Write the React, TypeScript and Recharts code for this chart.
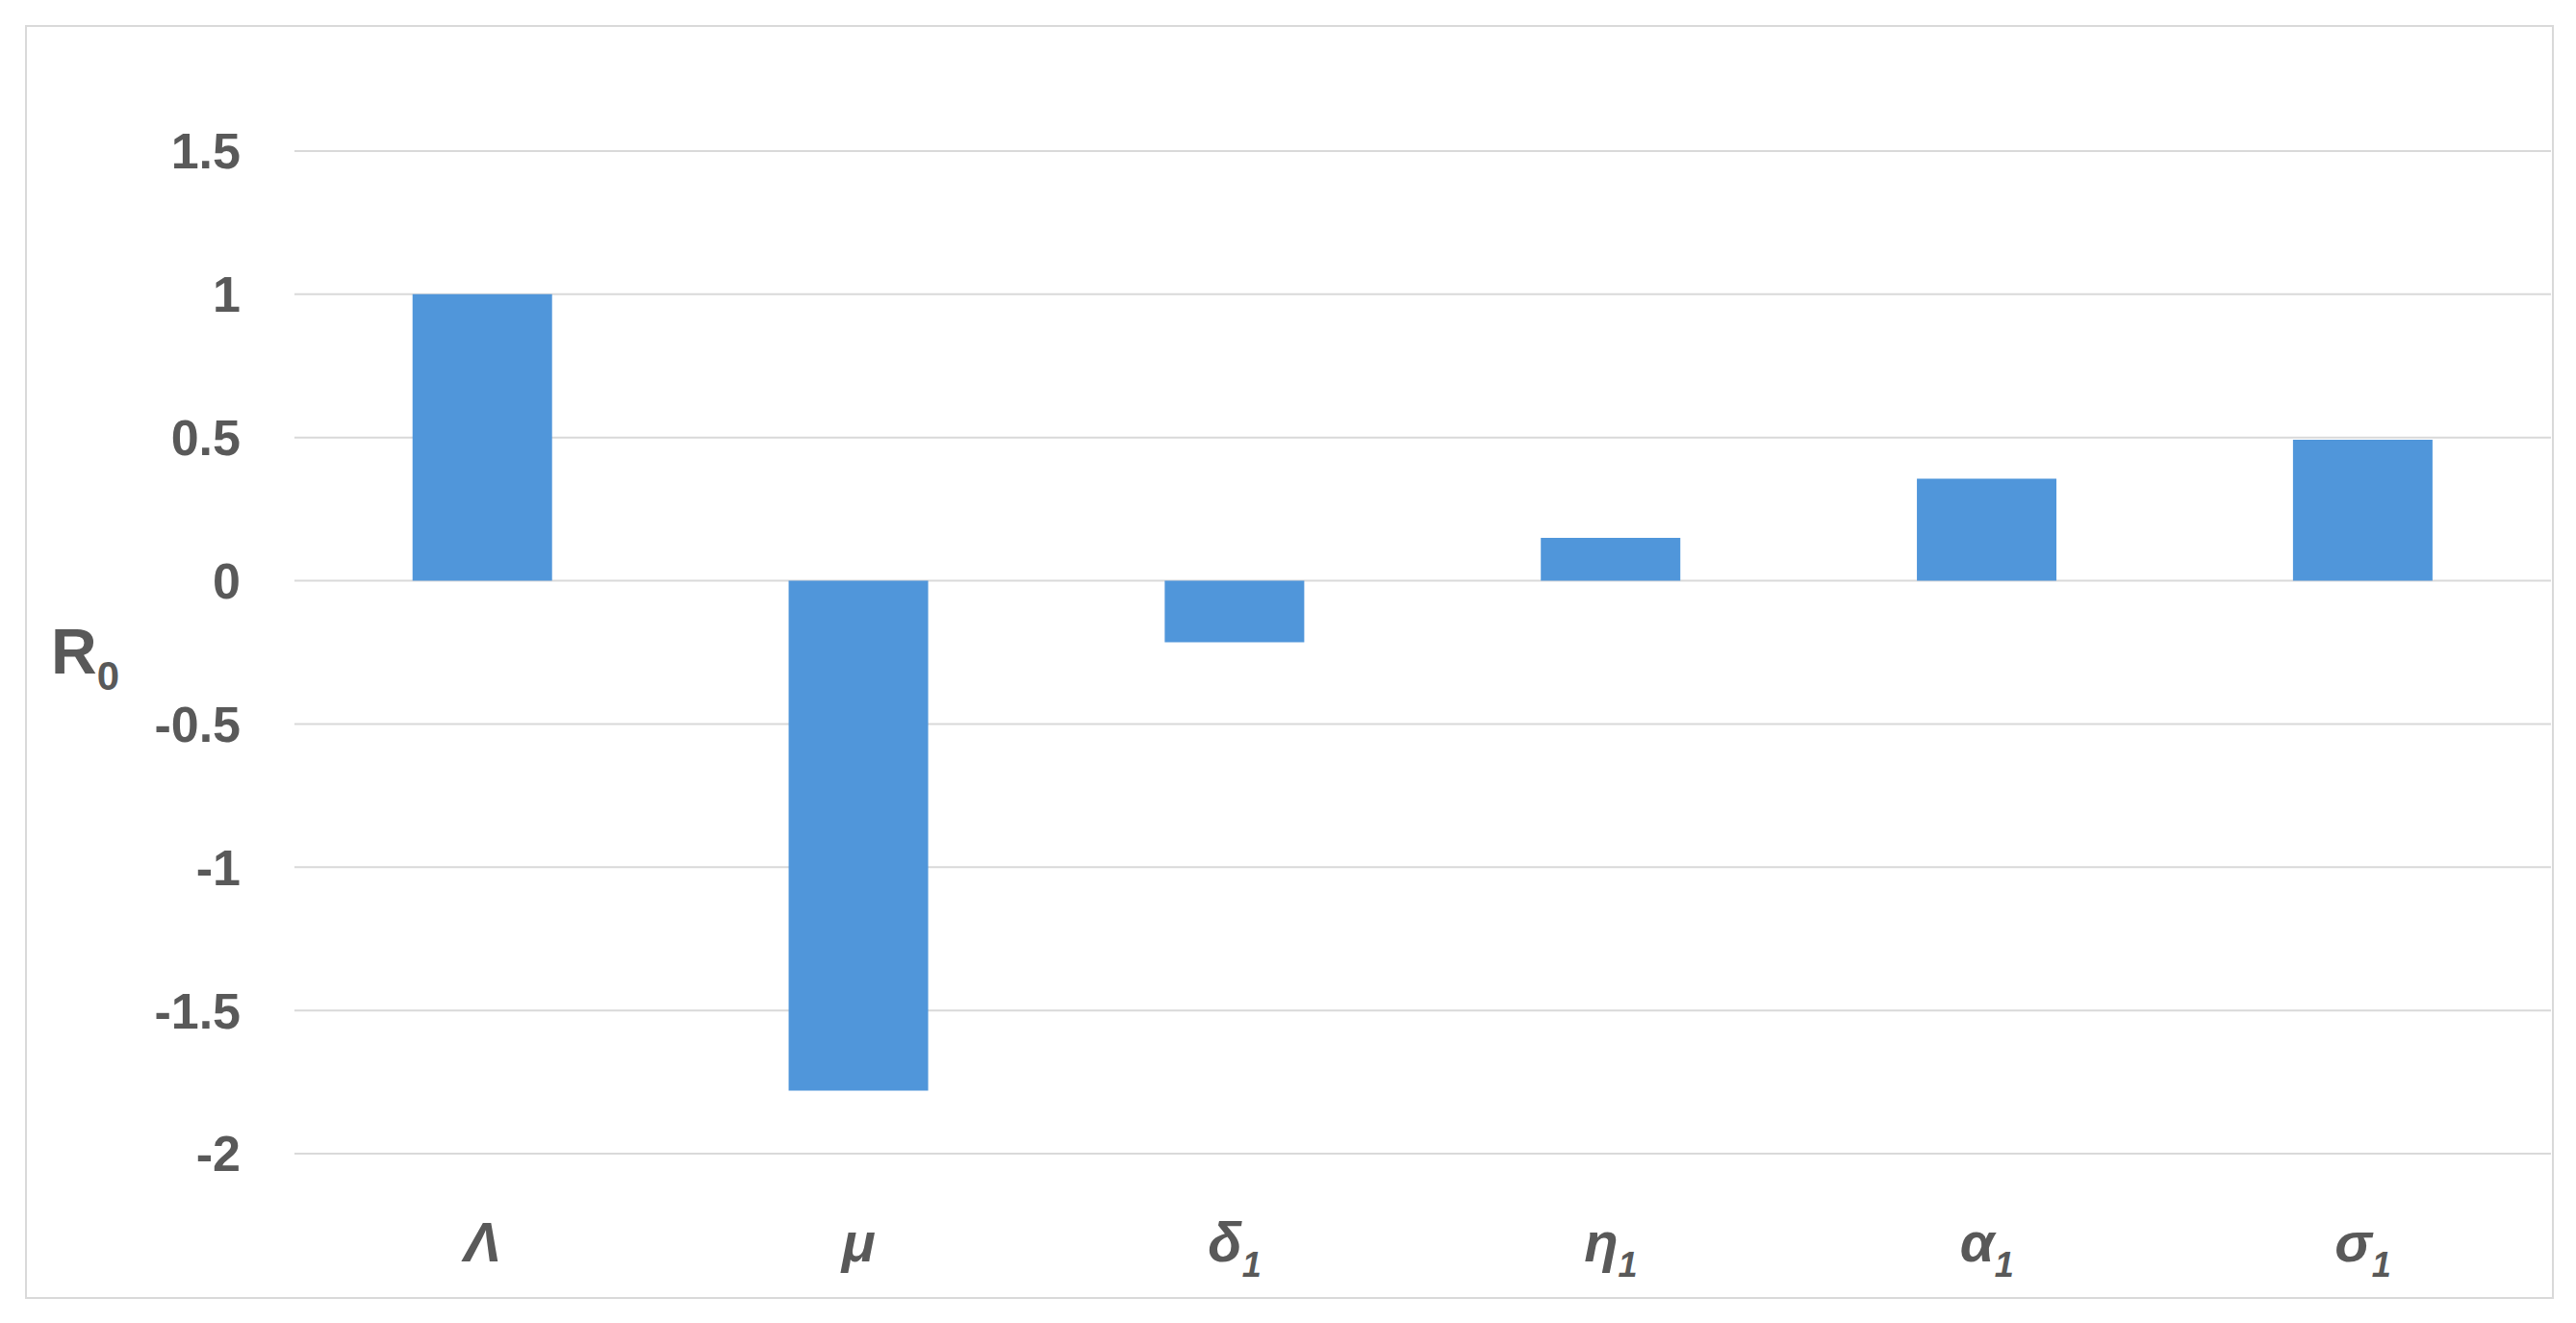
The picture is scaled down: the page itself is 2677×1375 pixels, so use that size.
import { Bar, BarChart, CartesianGrid, XAxis, YAxis } from "recharts";

const PARAMS = ["Λ", "μ", "δ", "η", "α", "σ"];
const SUBSCRIPTS = ["", "", "1", "1", "1", "1"];
const SENSITIVITY = [1.0, -1.78, -0.215, 0.15, 0.356, 0.492];
const Y_TICKS = [-2, -1.5, -1, -0.5, 0, 0.5, 1, 1.5];

const TEXT = "#595959";
const GRID = "#d9d9d9";
const BAR = "#5096da";
const FONT = "'Liberation Sans', Arial, sans-serif";

const data = PARAMS.map((name, i) => ({ key: `${name}${SUBSCRIPTS[i]}`, name, sub: SUBSCRIPTS[i], value: SENSITIVITY[i] }));

function ParamTick({ x, y, payload, index }: any) {
  const row = data[index] ?? data.find(d => d.key === payload?.value);
  if (!row) return null;
  return (
    <text x={x} y={y + 104} textAnchor="middle" fill={TEXT} fontFamily={FONT} fontWeight="bold" fontStyle="italic" fontSize={58}>
      <tspan>{row.name}</tspan>
      {row.sub && <tspan fontSize={36} dy={16}>{row.sub}</tspan>}
    </text>
  );
}

function AxisTitle({ viewBox }: any) {
  const cy = viewBox.y + viewBox.height / 2;
  return (
    <text x={viewBox.x + 43} y={cy + 22} fill={TEXT} fontFamily={FONT} fontWeight="bold" fontSize={66}>
      <tspan>R</tspan>
      <tspan fontSize={42} dy={17}>0</tspan>
    </text>
  );
}

export default function App() {
  return (
    <div style={{ position: "absolute", left: 0, top: 0, width: 2677, height: 1375, background: "#fff" }}>
      <div style={{ position: "absolute", left: 26, top: 26, width: 2628, height: 1324, boxSizing: "border-box", border: `2px solid ${GRID}` }} />
      <div style={{ position: "absolute", left: 0, top: 0 }}>
        <BarChart width={2677} height={1375} data={data} margin={{ top: 157, right: 26, bottom: 76, left: 10 }} barCategoryGap="31.4%">
          <CartesianGrid stroke={GRID} strokeWidth={2} vertical={false} />
          <XAxis dataKey="key" height={100} axisLine={false} tickLine={false} interval={0} tick={<ParamTick />} />
          <YAxis
            type="number"
            domain={[-2, 1.5]}
            ticks={Y_TICKS}
            width={296}
            axisLine={false}
            tickLine={false}
            tickSize={0}
            tickMargin={56}
            tick={{ fill: TEXT, fontFamily: FONT, fontWeight: "bold", fontSize: 52 }}
            label={{ content: <AxisTitle /> }}
          />
          <Bar dataKey="value" fill={BAR} isAnimationActive={false} />
        </BarChart>
      </div>
    </div>
  );
}
